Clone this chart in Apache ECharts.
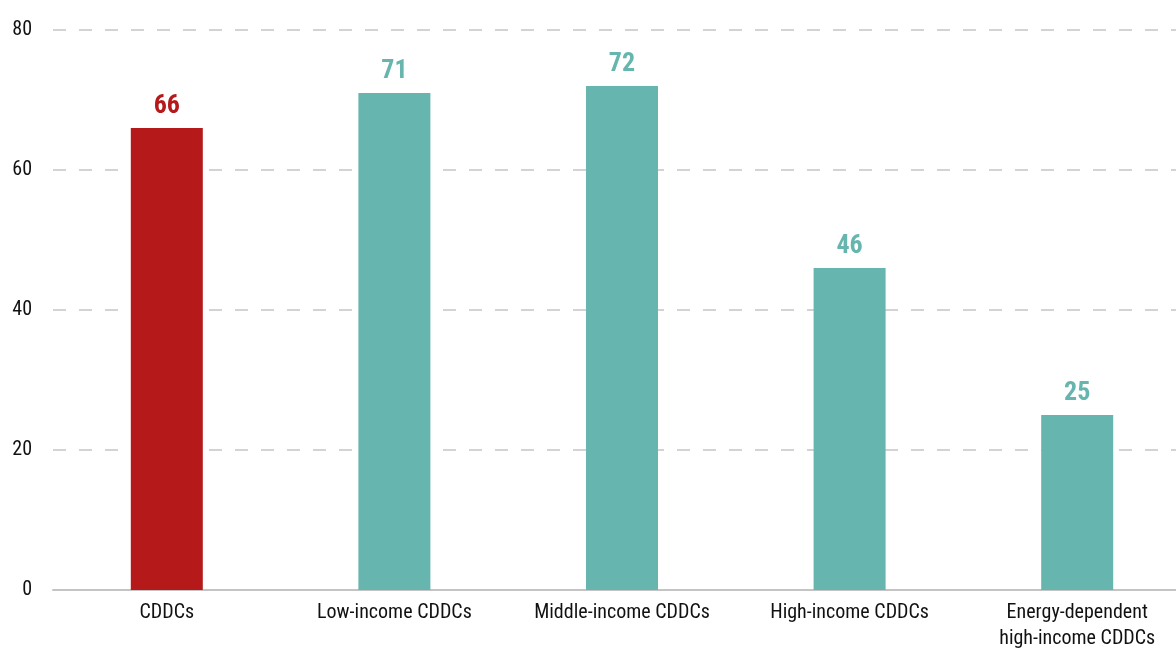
<!DOCTYPE html>
<html><head><meta charset="utf-8">
<script src="https://cdn.jsdelivr.net/npm/echarts@6/dist/echarts.min.js"></script>
<style>html,body{margin:0;padding:0;background:#fff}#c{width:1176px;height:648px}</style>
</head><body><div id="c"></div>
<script>
var categories = ['CDDCs', 'Low-income CDDCs', 'Middle-income CDDCs', 'High-income CDDCs', 'Energy-dependent\nhigh-income CDDCs'];
var values = [66, 71, 72, 46, 25];
var barColors = ['#b5191a', '#66b5ae', '#66b5ae', '#66b5ae', '#66b5ae'];
var FONT = '"Liberation Sans Narrow", "Arial Narrow", "Roboto Condensed", sans-serif';
var chart = echarts.init(document.getElementById('c'));
chart.setOption({
  animation: false,
  grid: { left: 53, right: -15, top: 30, bottom: 58, containLabel: false, outerBoundsMode: 'none' },
  xAxis: {
    type: 'category', data: categories,
    axisLine: { lineStyle: { color: '#c4c4c4', width: 2 } },
    axisTick: { show: false },
    axisLabel: { color: '#111', fontFamily: FONT, fontSize: 20, margin: 10, lineHeight: 26, interval: 0 }
  },
  yAxis: {
    type: 'value', min: 0, max: 80, interval: 20,
    axisLine: { show: false }, axisTick: { show: false },
    axisLabel: { color: '#111', fontFamily: FONT, fontSize: 20, margin: 21 },
    splitLine: { lineStyle: { color: '#d3d3d3', width: 2, type: [13, 13] } }
  },
  series: [{
    type: 'bar', barWidth: 72,
    data: values.map(function (v, i) { return { value: v, itemStyle: { color: barColors[i] }, label: { color: barColors[i] } }; }),
    label: { show: true, position: 'top', distance: 9, fontFamily: FONT, fontWeight: 'bold', fontSize: 26 }
  }]
});
</script></body></html>
